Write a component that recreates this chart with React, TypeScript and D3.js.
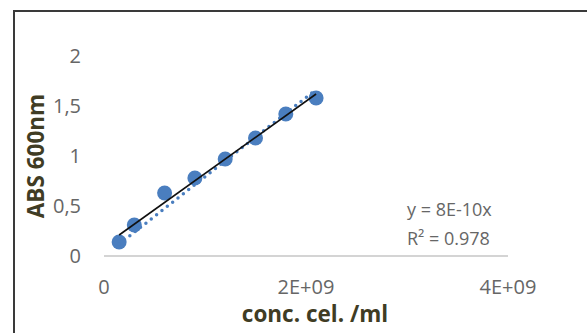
import React from 'react';
import * as d3 from 'd3';

// measured points
const conc = [0.15e9, 0.3e9, 0.6e9, 0.9e9, 1.2e9, 1.5e9, 1.8e9, 2.1e9];
const absorb = [0.14, 0.31, 0.63, 0.78, 0.97, 1.18, 1.42, 1.58];

// hand drawn black line (two ends)
const lineX = [0.15e9, 2.1e9];
const lineY = [0.21, 1.62];

const yTicks = [0, 0.5, 1, 1.5, 2];
const yLabels = ['0', '0,5', '1', '1,5', '2'];
const xTicks = [0, 2e9, 4e9];
const xLabels = ['0', '2E+09', '4E+09'];

const eqText = 'y = 8E-10x';
const r2Text = 'R² = 0.978';

const W = 587;
const H = 333;
const BLUE = '#4a7ebf';
const TICK = '#666666';
const TITLE = '#403c24';
const FONT = '"Open Sans", sans-serif';

export default function App() {
  const x = d3.scaleLinear().domain([0, 4e9]).range([104, 508]);
  const y = d3.scaleLinear().domain([0, 2]).range([256, 56]);

  // linear trend through origin (like excel with intercept = 0)
  const slope = d3.sum(conc, (c, i) => c * absorb[i]) / d3.sum(conc, c => c * c);
  const [xmin, xmax] = d3.extent(conc) as [number, number];
  const trend: [number, number][] = [[xmin, slope * xmin], [xmax, slope * xmax]];

  const line = d3.line<[number, number]>()
    .x(d => x(d[0]))
    .y(d => y(d[1]));

  const blackPts: [number, number][] = lineX.map((v, i) => [v, lineY[i]]);

  return (
    <svg width={W} height={H} style={{ position: 'absolute', left: 0, top: 0, background: '#fff' }}>
      {/* chart border */}
      <path d={`M14,${H} L14,11 L${W},11`} fill="none" stroke="#3a3a3a" strokeWidth={2} />

      {/* y tick labels */}
      {yTicks.map((t, i) => (
        <text key={'y' + i} x={81} y={y(t)} dy="0.36em" textAnchor="end"
          fontFamily={FONT} fontSize={20} fill={TICK}>{yLabels[i]}</text>
      ))}

      {/* x axis */}
      <line x1={x(0)} x2={x(4e9)} y1={y(0)} y2={y(0)} stroke="#c6c6c6" strokeWidth={1.5} />
      {xTicks.map((t, i) => (
        <text key={'x' + i} x={x(t)} y={294} textAnchor="middle"
          fontFamily={FONT} fontSize={20} fill={TICK}>{xLabels[i]}</text>
      ))}

      {/* markers */}
      {conc.map((c, i) => (
        <circle key={'p' + i} cx={x(c)} cy={y(absorb[i])} r={7.5} fill={BLUE} />
      ))}

      {/* dotted trendline */}
      <path d={line(trend) || ''} fill="none" stroke={BLUE} strokeWidth={3.5}
        strokeLinecap="round" strokeDasharray="0 6.8" />

      {/* black line */}
      <path d={line(blackPts) || ''} fill="none" stroke="#111" strokeWidth={1.6} />

      {/* equation */}
      <text x={407} y={216} fontFamily={FONT} fontSize={18} fill={TICK}>{eqText}</text>
      <text x={407} y={245} fontFamily={FONT} fontSize={18} fill={TICK}>{r2Text}</text>

      {/* axis titles */}
      <text x={315} y={322} textAnchor="middle" fontFamily={FONT} fontSize={22.5}
        fontWeight="bold" fill={TITLE}>conc. cel. /ml</text>
      <text transform="translate(44,156) rotate(-90)" textAnchor="middle" fontFamily={FONT}
        fontSize={22.5} fontWeight="bold" fill={TITLE}>ABS 600nm</text>
    </svg>
  );
}
